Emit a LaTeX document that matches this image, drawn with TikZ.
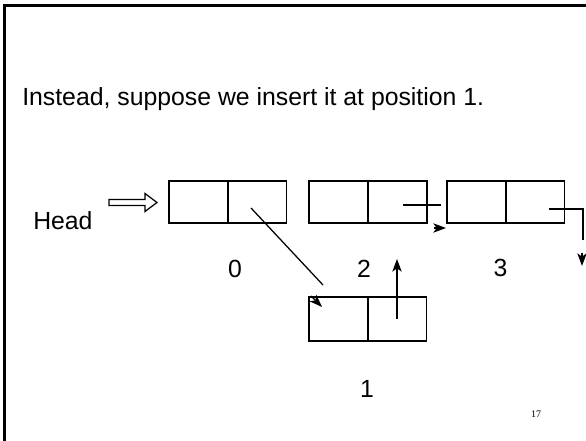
\documentclass[tikz,border=0pt]{standalone}
\usepackage{fontspec}
\setmainfont{Liberation Sans}
\newfontfamily\numfont{Liberation Serif}
\usetikzlibrary{arrows.meta}
\begin{document}
\begin{tikzpicture}[x=0.75pt,y=-0.75pt,
  cell/.style={draw, line width=1.3pt, inner sep=0pt, minimum width=44.25pt, minimum height=31.5pt},
  lowcell/.style={cell, minimum height=32.8pt},
  link/.style={line width=0.95pt},
  tip/.style={-{Stealth[length=9.5pt,width=7pt,inset=2.5pt]}, line width=0.95pt},
  lbl/.style={font=\fontsize{18.6pt}{20pt}\selectfont, inner sep=0pt}]
\useasboundingbox (0,0) rectangle (586,441);
% slide frame
\draw[line width=1.6pt] (4.5,441) -- (4.5,5.5) -- (586,5.5);
% title
\node[lbl, anchor=base west] (title) at (22,106) {Instead, suppose we insert it at position 1.};
% head label and block arrow
\node[lbl, anchor=base west] (head) at (33,230) {Head};
\draw[line width=0.95pt] (109,199.5) -- (145,199.5) -- (145,193.5) -- (157,202.5)
  -- (145,211.5) -- (145,205.5) -- (109,205.5) -- cycle;
% list nodes: data cell and next cell
\node[cell] (n0d) at (198.5,202) {};
\node[cell] (n0n) at (257,202) {};
\node[cell] (n2d) at (338.5,202) {};
\node[cell] (n2n) at (397.5,202) {};
\node[cell] (n3d) at (476.5,202) {};
\node[cell] (n3n) at (535,202) {};
\node[lowcell] (n1d) at (338.5,319) {};
\node[lowcell] (n1n) at (397,319) {};
% indices
\node[lbl, anchor=base] (i0) at (235,278) {0};
\node[lbl, anchor=base] (i2) at (364,278) {2};
\node[lbl, anchor=base] (i3) at (500.5,277) {3};
\node[lbl, anchor=base] (i1) at (367,398) {1};
% page number
\node[anchor=base, inner sep=0pt, font=\numfont\fontsize{7.5pt}{8pt}\selectfont] (pg) at (536,418) {17};
% pointer of node 0 to node 1
\coordinate (p0s) at (251,208);
\coordinate (p0e) at (323,285);
\coordinate (p0a) at (311,296);
\coordinate (p0t) at (322,307);
\draw[link] (p0s) -- (p0e);
\draw[tip] (p0a) -- (p0t);
% pointer of node 1 to node 2
\coordinate (p1e) at (397,259);
\draw[tip] (n1n.center) -- (p1e);
% pointer of node 2 to node 3
\coordinate (p2s) at (403,205);
\coordinate (p2e) at (441,205);
\coordinate (p2a) at (434,228);
\coordinate (p2t) at (446,228);
\draw[link] (p2s) -- (p2e);
\draw[tip] (p2a) -- (p2t);
% pointer of node 3 (null)
\coordinate (p3s) at (549,209);
\coordinate (p3c) at (583,209);
\coordinate (p3e) at (583,240);
\coordinate (p3a) at (582,253);
\coordinate (p3t) at (582,266);
\draw[link] (p3s) -- (p3c) -- (p3e);
\draw[tip] (p3a) -- (p3t);
\end{tikzpicture}
\end{document}
